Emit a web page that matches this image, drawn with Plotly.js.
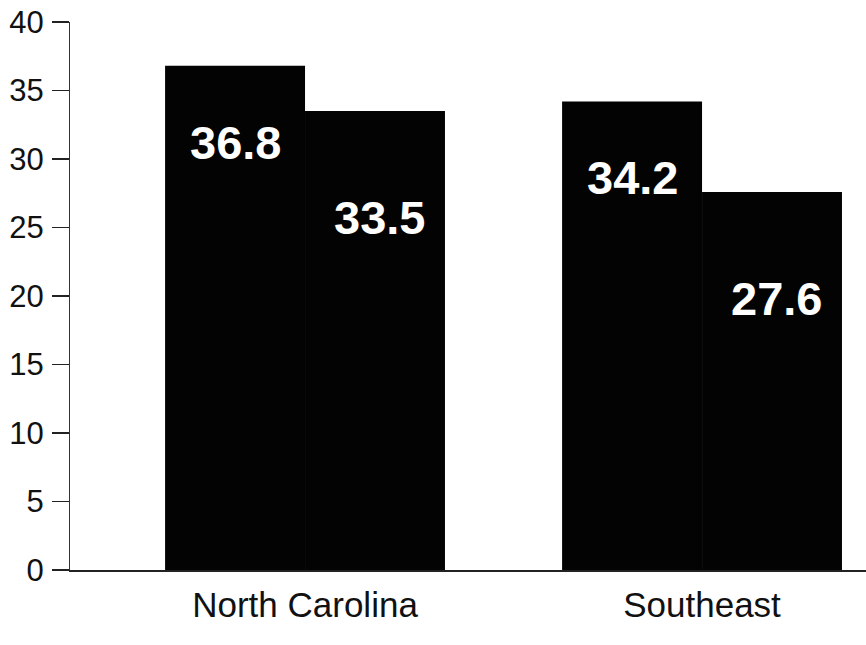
<!DOCTYPE html>
<html>
<head>
<meta charset="utf-8">
<script src="https://cdn.plot.ly/plotly-3.0.1.min.js"></script>
<style>html,body{margin:0;padding:0;background:#fff;}#chart{width:866px;height:645px;}</style>
</head>
<body>
<div id="chart"></div>
<script>
const categories = ["North Carolina", "Southeast"];
const seriesA = [36.8, 34.2];
const seriesB = [33.5, 27.6];
const yTicks = [0, 5, 10, 15, 20, 25, 30, 35, 40];

const barColor = "#030303";
const traces = [
  {type: "bar", x: categories, y: seriesA, marker: {color: barColor, line: {width: 0}}, hoverinfo: "none", offsetgroup: "a"},
  {type: "bar", x: categories, y: seriesB, marker: {color: barColor, line: {width: 0}}, hoverinfo: "none", offsetgroup: "b"}
];

const annotations = [];
const labelFont = {family: "Liberation Sans, Arial, sans-serif", size: 47, color: "#ffffff", weight: "bold"};
categories.forEach((c, i) => {
  annotations.push({x: c, y: seriesA[i], xref: "x", yref: "y", text: "<b>" + seriesA[i].toFixed(1) + "</b>", showarrow: false, yanchor: "top", yshift: -48, xshift: -70, font: labelFont});
  annotations.push({x: c, y: seriesB[i], xref: "x", yref: "y", text: "<b>" + seriesB[i].toFixed(1) + "</b>", showarrow: false, yanchor: "top", yshift: -78, xshift: 74, font: labelFont});
});

const layout = {
  width: 866, height: 645,
  margin: {l: 70, r: 0, t: 22, b: 75},
  paper_bgcolor: "#ffffff", plot_bgcolor: "#ffffff",
  showlegend: false,
  barmode: "group", bargap: 0.295, bargroupgap: 0,
  font: {family: "Liberation Sans, Arial, sans-serif", color: "#111"},
  xaxis: {
    type: "category", range: [-0.592, 1.413],
    showgrid: false, zeroline: false, showline: true, linecolor: "#222", linewidth: 1.5,
    ticks: "", ticklabelstandoff: 3,
    tickfont: {size: 35, color: "#111"}
  },
  yaxis: {
    range: [0, 40], tickvals: yTicks, ticktext: yTicks.map(String),
    showgrid: false, zeroline: false, showline: true, linecolor: "#333", linewidth: 1,
    ticks: "outside", ticklen: 17, tickwidth: 1.5, tickcolor: "#222",
    tickfont: {size: 31, color: "#111"}, ticklabelstandoff: 2
  },
  annotations: annotations
};

Plotly.newPlot("chart", traces, layout, {staticPlot: true, displayModeBar: false});
</script>
</body>
</html>
